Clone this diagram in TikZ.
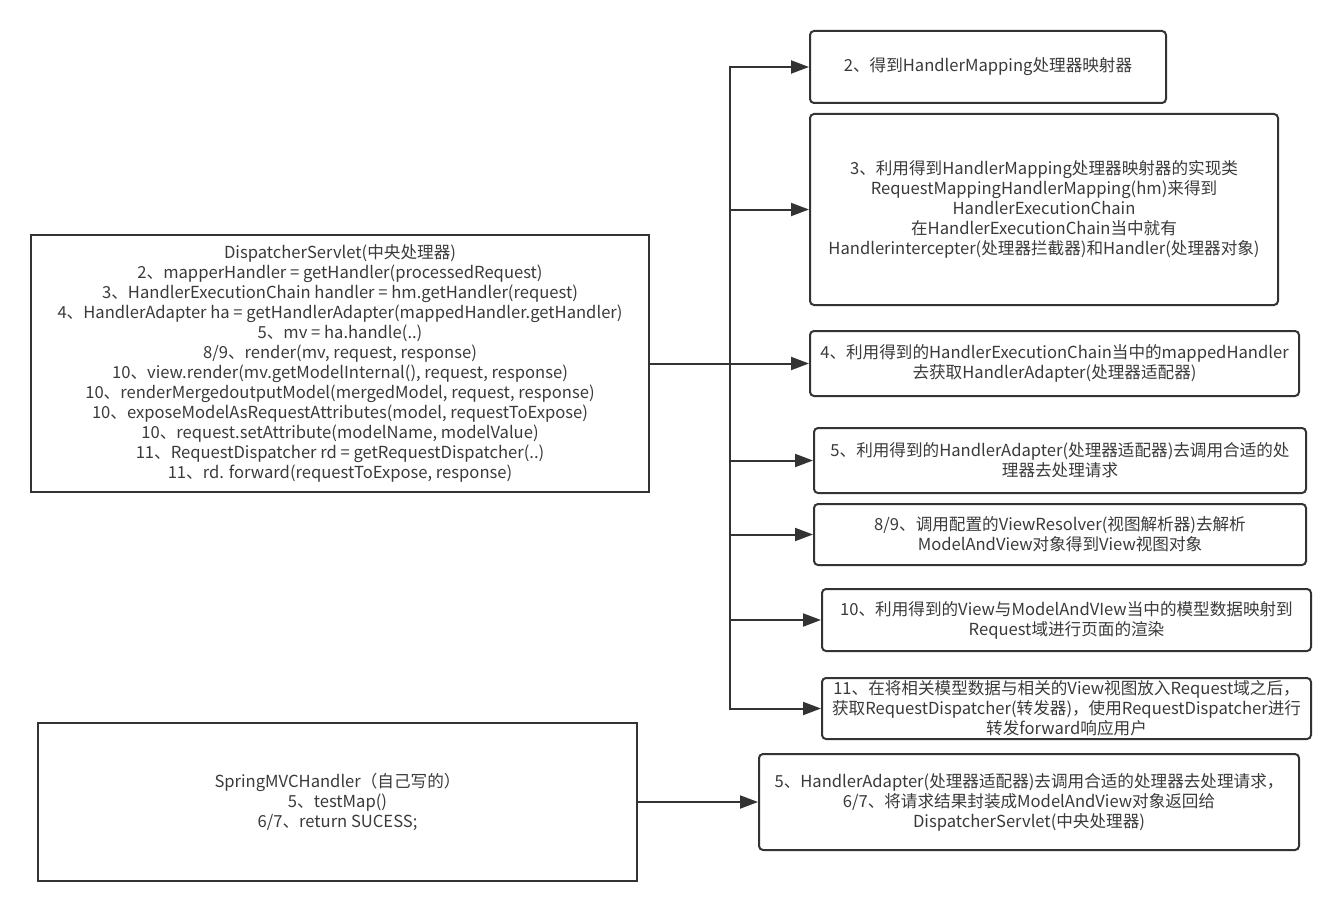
\documentclass[tikz,border=0pt]{standalone}
\usepackage{fontspec}
\setmainfont{Noto Sans CJK SC}
\usetikzlibrary{arrows.meta}
\definecolor{ink}{HTML}{333333}
\definecolor{txt}{HTML}{3A3A3A}
\tikzset{
  plainbox/.style={draw=ink, line width=2pt, inner sep=0pt, align=center, text=txt,
    font=\fontsize{16.6}{20}\selectfont},
  roundbox/.style={plainbox, rounded corners=4pt},
  conn/.style={draw=ink, line width=2pt, -{Triangle[length=18pt,width=13pt]}},
  plainline/.style={draw=ink, line width=2pt}
}
\begin{document}
\begin{tikzpicture}[x=1pt,y=-1pt]
\useasboundingbox (0,0) rectangle (1343,912);

\node[plainbox, minimum width=618, minimum height=257] (main) at (340,363.5)
{DispatcherServlet(中央处理器)\\
2、mapperHandler = getHandler(processedRequest)\\
3、HandlerExecutionChain handler = hm.getHandler(request)\\
4、HandlerAdapter ha = getHandlerAdapter(mappedHandler.getHandler)\\
5、mv = ha.handle(..)\\
8/9、render(mv, request, response)\\
10、view.render(mv.getModelInternal(), request, response)\\
10、renderMergedoutputModel(mergedModel, request, response)\\
10、exposeModelAsRequestAttributes(model, requestToExpose)\\
10、request.setAttribute(modelName, modelValue)\\
11、RequestDispatcher rd = getRequestDispatcher(..)\\
11、rd. forward(requestToExpose, response)};

\node[plainbox, minimum width=599, minimum height=158] (spring) at (337.5,802)
{SpringMVCHandler（自己写的）\\
5、testMap()\\
6/7、return SUCESS;};

\node[roundbox, minimum width=356, minimum height=72] (b1) at (988,67)
{2、得到HandlerMapping处理器映射器};

\node[roundbox, minimum width=468, minimum height=191] (b2) at (1044,209.5)
{3、利用得到HandlerMapping处理器映射器的实现类\\
RequestMappingHandlerMapping(hm)来得到\\
HandlerExecutionChain\\
在HandlerExecutionChain当中就有\\
Handlerintercepter(处理器拦截器)和Handler(处理器对象)};

\node[roundbox, minimum width=489, minimum height=65] (b3) at (1054.5,363.5)
{4、利用得到的HandlerExecutionChain当中的mappedHandler\\
去获取HandlerAdapter(处理器适配器)};

\node[roundbox, minimum width=492, minimum height=65] (b4) at (1060,460.5)
{5、利用得到的HandlerAdapter(处理器适配器)去调用合适的处\\
理器去处理请求};

\node[roundbox, minimum width=492, minimum height=61] (b5) at (1060,534.5)
{8/9、调用配置的ViewResolver(视图解析器)去解析\\
ModelAndView对象得到View视图对象};

\node[roundbox, minimum width=489, minimum height=62] (b6) at (1066.5,620)
{10、利用得到的View与ModelAndVIew当中的模型数据映射到\\
Request域进行页面的渲染};

\node[roundbox, minimum width=489, minimum height=61] (b7) at (1066.5,708.5)
{11、在将相关模型数据与相关的View视图放入Request域之后，\\
获取RequestDispatcher(转发器)，使用RequestDispatcher进行\\
转发forward响应用户};

\node[roundbox, minimum width=540, minimum height=96] (b8) at (1029,802)
{5、HandlerAdapter(处理器适配器)去调用合适的处理器去处理请求，\\
6/7、将请求结果封装成ModelAndView对象返回给\\
DispatcherServlet(中央处理器)};

\coordinate (j) at (730,363.5);

\draw[conn] (main.east) -- (b3.west);
\draw[conn] (j) |- (b1.west);
\draw[conn] (j) |- (b2.west);
\draw[conn] (j) |- (b4.west);
\draw[conn] (j) |- (b5.west);
\draw[conn] (j) |- (b6.west);
\draw[conn] (j) |- (b7.west);
\draw[conn] (spring.east) -- (b8.west);
\end{tikzpicture}
\end{document}
